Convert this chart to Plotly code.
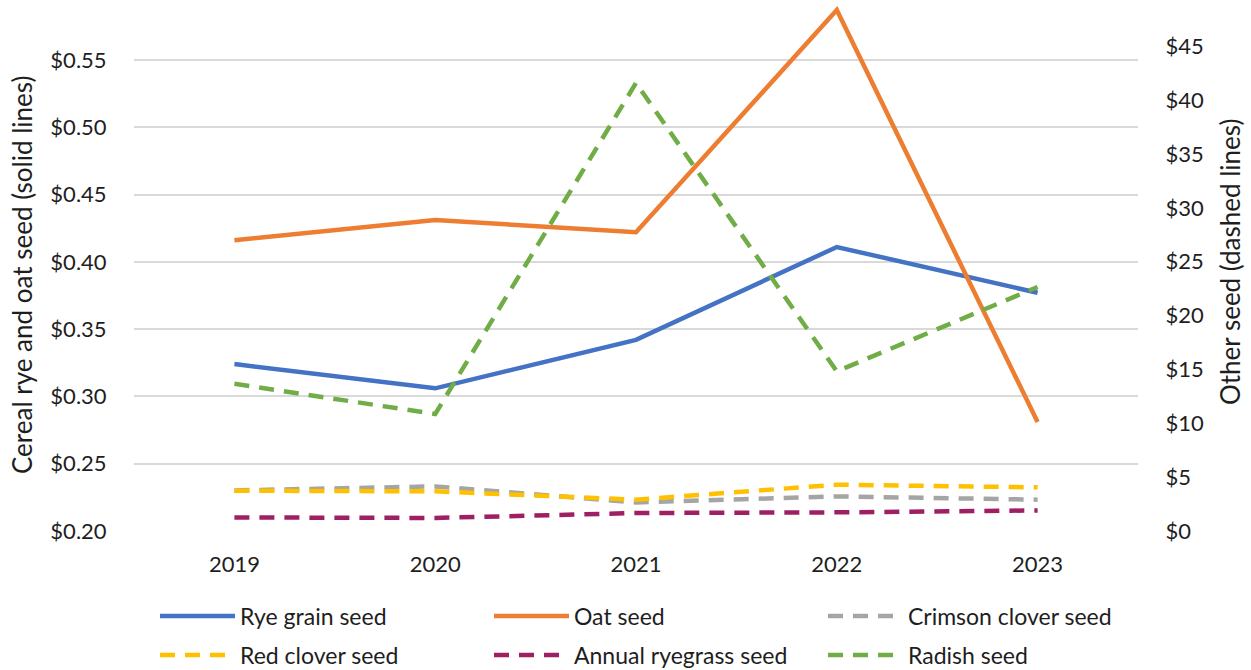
import plotly.graph_objects as go

years = ["2019", "2020", "2021", "2022", "2023"]
rye = [0.324, 0.306, 0.342, 0.411, 0.377]
oat = [0.416, 0.431, 0.422, 0.587, 0.281]
crimson = [3.77, 4.14, 2.65, 3.21, 2.91]
red_clover = [3.74, 3.68, 2.91, 4.30, 4.05]
ryegrass = [1.26, 1.21, 1.67, 1.73, 1.91]
radish = [13.67, 10.86, 41.59, 14.82, 22.65]

left_ticks = [0.20, 0.25, 0.30, 0.35, 0.40, 0.45, 0.50, 0.55]
right_ticks = [0, 5, 10, 15, 20, 25, 30, 35, 40, 45]

FONT = "Lato"
TXT = "#1e1e1e"
DASH = "15px,10px"
LW = 4.5

L, R, T, B = 134, 113, 0, 139
W, H = 1251, 670
plot_h = H - T - B
plot_w = W - L - R

def py_to_paper(py):
    return (H - B - py) / plot_h

def px_to_paper(px):
    return (px - L) / plot_w

series = [
    ("Rye grain seed", rye, "#4472C4", "solid", "y"),
    ("Oat seed", oat, "#ED7D31", "solid", "y"),
    ("Crimson clover seed", crimson, "#A5A5A5", DASH, "y2"),
    ("Red clover seed", red_clover, "#FFC000", DASH, "y2"),
    ("Annual ryegrass seed", ryegrass, "#9E1F63", DASH, "y2"),
    ("Radish seed", radish, "#70AD47", DASH, "y2"),
]

legend_cols = [155, 489, 823]
legend_rows = [616, 655]

fig = go.Figure()
legend_layout = {}
for i, (name, vals, color, dash, yax) in enumerate(series):
    lname = "legend" if i == 0 else f"legend{i + 1}"
    fig.add_trace(go.Scatter(x=years, y=vals, name=name, mode="lines",
                             line=dict(color=color, width=LW, dash=dash),
                             yaxis=yax, legend=lname))
    legend_layout[lname] = dict(
        orientation="h", xanchor="left", yanchor="middle", xref="container",
        x=legend_cols[i % 3] / W, y=py_to_paper(legend_rows[i // 3]),
        font=dict(family=FONT, size=23, color=TXT), itemwidth=75,
        bgcolor="rgba(0,0,0,0)", borderwidth=0,
        itemclick=False, itemdoubleclick=False,
    )

title_font = dict(family=FONT, size=26, color=TXT)
tick_font = dict(family=FONT, size=22, color=TXT)

fig.update_layout(
    width=W, height=H,
    margin=dict(l=L, r=R, t=T, b=B, autoexpand=False),
    paper_bgcolor="white", plot_bgcolor="white",
    font=dict(family=FONT, size=22, color=TXT),
    xaxis=dict(type="category", range=[-0.5, 4.5], showgrid=False, zeroline=False,
               showline=False, ticks="outside", ticklen=14, tickcolor="rgba(0,0,0,0)",
               tickfont=tick_font, automargin=False),
    yaxis=dict(range=[0.20, 0.20 + 531.0 / 67.3 * 0.05], tickvals=left_ticks,
               tickformat="$.2f", showgrid=True, gridcolor="#D9D9D9", gridwidth=1.5,
               zeroline=False, showline=False, ticks="outside", ticklen=22,
               tickcolor="rgba(0,0,0,0)", tickfont=tick_font, automargin=False),
    yaxis2=dict(overlaying="y", side="right", range=[0, 531.0 / 53.86 * 5],
                tickvals=right_ticks, tickformat="$.0f", showgrid=False, zeroline=False,
                showline=False, ticks="outside", ticklen=22, tickcolor="rgba(0,0,0,0)",
                tickfont=tick_font, automargin=False),
    annotations=[
        dict(text="Cereal rye and oat seed (solid lines)", textangle=-90,
             xref="paper", yref="paper", x=px_to_paper(22), y=py_to_paper(275),
             xanchor="center", yanchor="middle", showarrow=False, font=title_font),
        dict(text="Other seed (dashed lines)", textangle=-90,
             xref="paper", yref="paper", x=px_to_paper(1230), y=py_to_paper(262),
             xanchor="center", yanchor="middle", showarrow=False, font=title_font),
    ],
    showlegend=True,
    **legend_layout,
)

fig.write_html("out.html")
